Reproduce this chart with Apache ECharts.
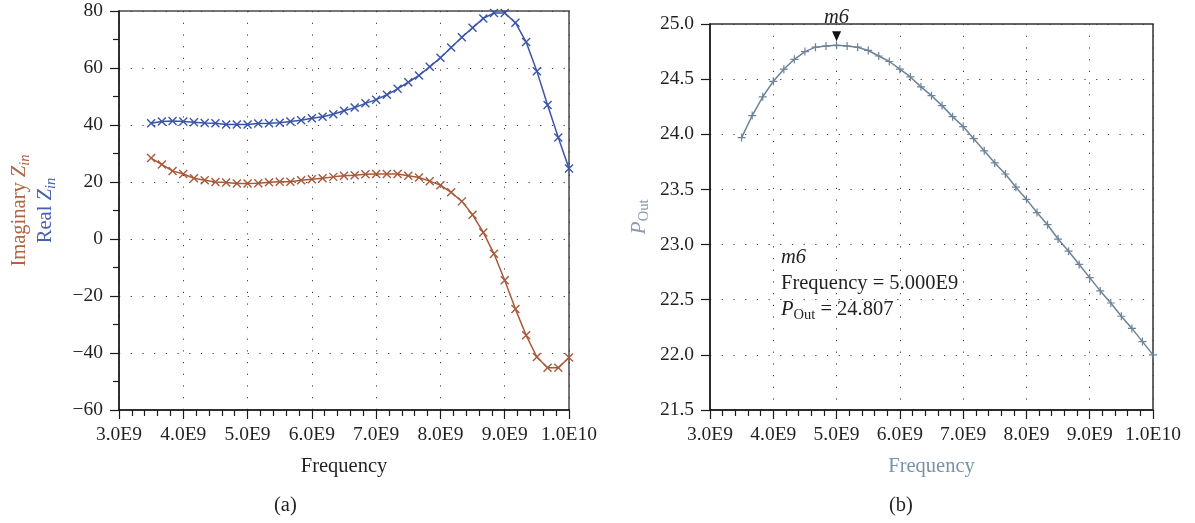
<!DOCTYPE html>
<html><head><meta charset="utf-8">
<script src="https://cdn.jsdelivr.net/npm/echarts/dist/echarts.min.js"></script>
<style>html,body{margin:0;padding:0;background:#fff}#c{width:1195px;height:523px}</style>
</head><body><div id="c"></div>
<script>
// ---- data ----
const freq = [3.5,3.6667,3.8333,4.0,4.1667,4.3333,4.5,4.6667,4.8333,5.0,
  5.1667,5.3333,5.5,5.6667,5.8333,6.0,6.1667,6.3333,6.5,6.6667,
  6.8333,7.0,7.1667,7.3333,7.5,7.6667,7.8333,8.0,8.1667,8.3333,
  8.5,8.6667,8.8333,9.0,9.1667,9.3333,9.5,9.6667,9.8333,10.0]; // GHz (x1E9)
const realZin = [40.6,41.2,41.4,41.2,41.0,40.7,40.6,40.2,40.2,40.2,
  40.5,40.6,40.8,41.2,41.7,42.4,42.9,43.8,45.0,46.1,
  47.6,48.9,50.6,52.7,55.0,57.4,60.4,63.6,67.2,70.8,
  74.1,77.4,79.3,79.3,75.9,69.1,58.9,47.0,35.6,24.7];
const imagZin = [28.4,26.1,23.9,22.8,21.3,20.6,20.0,19.8,19.5,19.5,
  19.6,19.9,20.1,20.1,20.6,21.0,21.3,21.8,22.2,22.4,
  22.7,22.8,22.8,22.8,22.2,21.6,20.3,18.9,16.4,13.2,
  8.5,2.3,-5.2,-14.5,-24.6,-33.8,-41.4,-45.2,-45.2,-41.6];
const pOut = [23.97,24.17,24.34,24.48,24.59,24.68,24.75,24.79,24.80,24.807,
  24.80,24.79,24.76,24.71,24.66,24.59,24.52,24.43,24.35,24.26,
  24.16,24.07,23.96,23.85,23.74,23.64,23.52,23.41,23.29,23.18,
  23.05,22.94,22.82,22.70,22.58,22.47,22.35,22.24,22.12,22.00];
const xTickLabels = ['3.0E9','4.0E9','5.0E9','6.0E9','7.0E9','8.0E9','9.0E9','1.0E10'];
const leftYTicks = [-60,-40,-20,0,20,40,60,80];
const rightYTicks = [21.5,22.0,22.5,23.0,23.5,24.0,24.5,25.0];
const marker = {name:'m6', freq:5.0, freqText:'5.000E9', value:24.807};

// ---- styling ----
const FONT = 'Liberation Serif';
const FS = 19.5;     // tick labels
const FN = 20.5;     // names / annotation
const FSUB = 14.5;
const BLUE = '#3a55a8', BROWN = '#a65a3a', GRAYB = '#6c8398';
const TXT = '#231f20';
const pair = a => freq.map((f,i)=>[f,a[i]]);

const splitDots = {show:true, lineStyle:{color:'#3a3a3a', width:1, type:[1.2,10.5]}};
function xAxis(gi, nameColor){
  return {type:'value', gridIndex:gi, min:3, max:10, interval:1,
    name:'Frequency', nameLocation:'middle', nameGap:46,
    nameTextStyle:{fontFamily:FONT, fontSize:FN, color:nameColor},
    axisLine:{show:true, onZero:false, lineStyle:{color:'#1a1a1a', width:1.5}},
    axisTick:{show:true, length:9, lineStyle:{color:'#1a1a1a', width:1.2}},
    minorTick:{show:true, splitNumber:5, length:6, lineStyle:{color:'#1a1a1a', width:1.2}},
    axisLabel:{margin:15, fontFamily:FONT, fontSize:FS, color:TXT,
      formatter: v => xTickLabels[Math.round(v-3)] || ''},
    splitLine:splitDots, minorSplitLine:{show:false}};
}
const IMC = '#ae6646', REC = '#4560b0', PC = '#8799ad';
const chart = echarts.init(document.getElementById('c'), null, {renderer:'canvas'});
chart.setOption({
  backgroundColor:'#fff',
  animation:false,
  grid:[
    {left:119, top:11, width:450, height:399, show:true, borderColor:'#4a4a4a', borderWidth:1.5, backgroundColor:'transparent', containLabel:false, outerBoundsMode:'none'},
    {left:710, top:24, width:443, height:386, show:true, borderColor:'#333', borderWidth:1.5, backgroundColor:'transparent', containLabel:false, outerBoundsMode:'none'}
  ],
  xAxis:[xAxis(0, TXT), xAxis(1, '#7b91a7')],
  yAxis:[
    {type:'value', gridIndex:0, min:leftYTicks[0], max:leftYTicks[leftYTicks.length-1], interval:20,
      name:'{ib|Imaginary }{ibz|Z}{ibs|in}\n{rb|Real }{rbz|Z}{rbs|in}',
      nameLocation:'middle', nameGap:60, nameRotate:90,
      nameTextStyle:{fontFamily:FONT, fontSize:FN, align:'center', lineHeight:26,
        rich:{
          ib:{fontFamily:FONT, fontSize:FN, color:IMC, lineHeight:26, verticalAlign:'middle'},
          ibz:{fontFamily:FONT, fontSize:FN, fontStyle:'italic', color:IMC, lineHeight:26, verticalAlign:'middle'},
          ibs:{fontFamily:FONT, fontSize:FSUB, fontStyle:'italic', color:IMC, lineHeight:26, verticalAlign:'bottom', padding:[6,0,0,0]},
          rb:{fontFamily:FONT, fontSize:FN, color:REC, lineHeight:26, verticalAlign:'middle'},
          rbz:{fontFamily:FONT, fontSize:FN, fontStyle:'italic', color:REC, lineHeight:26, verticalAlign:'middle'},
          rbs:{fontFamily:FONT, fontSize:FSUB, fontStyle:'italic', color:REC, lineHeight:26, verticalAlign:'bottom', padding:[6,0,0,0]}
        }},
      axisLine:{show:true, onZero:false, lineStyle:{color:'#1a1a1a', width:1.5}},
      axisTick:{show:true, length:9, lineStyle:{color:'#1a1a1a', width:1.2}},
      minorTick:{show:true, splitNumber:2, length:6, lineStyle:{color:'#1a1a1a', width:1.2}},
      axisLabel:{margin:16, fontFamily:FONT, fontSize:FS, color:TXT,
        formatter: v => v<0 ? '\u2212'+Math.abs(v) : String(v)},
      splitLine:splitDots, minorSplitLine:{show:false}},
    {type:'value', gridIndex:1, min:rightYTicks[0], max:rightYTicks[rightYTicks.length-1], interval:0.5,
      name:'{p|P}{s|Out}', nameLocation:'middle', nameGap:58, nameRotate:90,
      nameTextStyle:{fontFamily:FONT, fontSize:FN, color:PC, lineHeight:26,
        rich:{
          p:{fontFamily:FONT, fontSize:FN+1, fontStyle:'italic', color:PC, lineHeight:26, verticalAlign:'middle'},
          s:{fontFamily:FONT, fontSize:FSUB, color:PC, lineHeight:26, verticalAlign:'bottom', padding:[6,0,0,0]}
        }},
      axisLine:{show:true, onZero:false, lineStyle:{color:'#1a1a1a', width:1.5}},
      axisTick:{show:true, length:9, lineStyle:{color:'#1a1a1a', width:1.2}},
      minorTick:{show:false},
      axisLabel:{margin:16, fontFamily:FONT, fontSize:FS, color:TXT,
        formatter: v => v.toFixed(1)},
      splitLine:splitDots, minorSplitLine:{show:false}}
  ],
  series:[
    {type:'line', name:'Real Zin', xAxisIndex:0, yAxisIndex:0, data:pair(realZin),
      symbol:'path://M0,0L10,10M10,0L0,10', symbolSize:8, showAllSymbol:true,
      lineStyle:{color:BLUE, width:1.5}, itemStyle:{color:BLUE, borderColor:BLUE, borderWidth:1.4}, z:3},
    {type:'line', name:'Imaginary Zin', xAxisIndex:0, yAxisIndex:0, data:pair(imagZin),
      symbol:'path://M0,0L10,10M10,0L0,10', symbolSize:8, showAllSymbol:true,
      lineStyle:{color:BROWN, width:1.5}, itemStyle:{color:BROWN, borderColor:BROWN, borderWidth:1.4}, z:3},
    {type:'line', name:'POut', xAxisIndex:1, yAxisIndex:1, data:pair(pOut),
      symbol:'path://M5,0L5,10M0,5L10,5', symbolSize:8, showAllSymbol:true,
      lineStyle:{color:GRAYB, width:1.5}, itemStyle:{color:GRAYB, borderColor:GRAYB, borderWidth:1.2}, z:3,
      markPoint:{symbol:'triangle', symbolSize:[9,10], symbolRotate:180, symbolOffset:[0,-9],
        itemStyle:{color:'#111'},
        label:{show:true, position:'top', distance:4, formatter:marker.name,
          fontFamily:FONT, fontSize:FN, fontStyle:'italic', color:TXT},
        data:[{coord:[marker.freq, marker.value]}]}}
  ],
  graphic:[
    {type:'text', left:781, top:245, z:10,
      style:{text:'{i|'+marker.name+'}\n{n|Frequency = '+marker.freqText+'}\n{pi|P}{ps|Out}{n| = '+marker.value.toFixed(3)+'}',
        fontFamily:FONT, fontSize:FN, fill:TXT, lineHeight:26,
        rich:{
          i:{fontFamily:FONT, fontSize:FN, fontStyle:'italic', fill:TXT, lineHeight:26, verticalAlign:'middle'},
          n:{fontFamily:FONT, fontSize:FN, fill:TXT, lineHeight:26, verticalAlign:'middle'},
          pi:{fontFamily:FONT, fontSize:FN, fontStyle:'italic', fill:TXT, lineHeight:26, verticalAlign:'middle'},
          ps:{fontFamily:FONT, fontSize:FSUB, fill:TXT, lineHeight:26, verticalAlign:'bottom', padding:[6,0,0,0]}
        }}},
    {type:'text', left:274, top:495, style:{text:'(a)', fontFamily:FONT, fontSize:FN, fill:TXT}},
    {type:'text', left:889, top:495, style:{text:'(b)', fontFamily:FONT, fontSize:FN, fill:TXT}}
  ]
});
</script></body></html>
